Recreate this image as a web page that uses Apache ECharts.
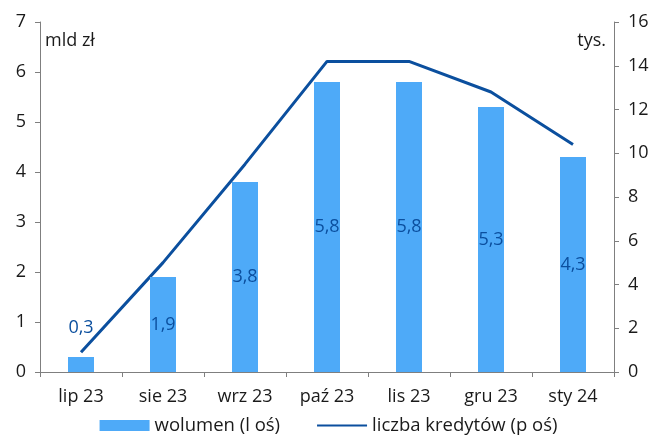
<!DOCTYPE html>
<html>
<head>
<meta charset="utf-8">
<script src="https://cdn.jsdelivr.net/npm/echarts@6/dist/echarts.min.js"></script>
<style>
html,body{margin:0;padding:0;background:#fff;}
#chart{width:657px;height:441px;}
</style>
</head>
<body>
<div id="chart"></div>
<script>
var categories = ['lip 23', 'sie 23', 'wrz 23', 'paź 23', 'lis 23', 'gru 23', 'sty 24'];
var wolumen = [0.3, 1.9, 3.8, 5.8, 5.8, 5.3, 4.3];
var liczbaKredytow = [0.9, 5.0, 9.5, 14.2, 14.2, 12.8, 10.4];
var leftTicks = [0, 1, 2, 3, 4, 5, 6, 7];
var rightTicks = [0, 2, 4, 6, 8, 10, 12, 14, 16];

var FONT = 'Open Sans';
var DARK = '#0b4f9e';
var BAR = '#4eaaf8';
var AXIS = '#7f7f7f';
var TXT = '#1a1a1a';

function fmt(v){ return String(v).replace('.', ','); }

var barData = wolumen.map(function(v){
  var item = {value: v};
  if (v < 1) {
    item.label = {position: 'top', distance: 20};
  }
  return item;
});

var chart = echarts.init(document.getElementById('chart'), null, {renderer: 'canvas'});
chart.setOption({
  animation: false,
  backgroundColor: '#fff',
  grid: {left: 40, right: 43, top: 22, bottom: 69, containLabel: false},
  legend: {
    bottom: 1,
    left: 'center',
    itemGap: 36,
    itemWidth: 50,
    itemHeight: 11,
    textStyle: {fontFamily: FONT, fontSize: 18.5, color: TXT},
    data: [
      {name: 'wolumen (l oś)', icon: 'rect'},
      {name: 'liczba kredytów (p oś)', itemStyle: {opacity: 0}}
    ]
  },
  xAxis: {
    type: 'category',
    data: categories,
    axisLine: {lineStyle: {color: AXIS, width: 1}},
    axisTick: {show: true, length: 5, lineStyle: {color: AXIS}},
    axisLabel: {fontFamily: FONT, fontSize: 18, color: TXT, margin: 16}
  },
  yAxis: [
    {
      type: 'value', min: leftTicks[0], max: leftTicks[leftTicks.length-1], interval: 1,
      position: 'left',
      axisLine: {show: true, lineStyle: {color: AXIS}},
      axisTick: {show: true, length: 5, lineStyle: {color: AXIS}},
      splitLine: {show: false},
      axisLabel: {fontFamily: FONT, fontSize: 18, color: TXT, margin: 14}
    },
    {
      type: 'value', min: rightTicks[0], max: rightTicks[rightTicks.length-1], interval: 2,
      position: 'right',
      axisLine: {show: true, lineStyle: {color: AXIS}},
      axisTick: {show: true, length: 5, lineStyle: {color: AXIS}},
      splitLine: {show: false},
      axisLabel: {fontFamily: FONT, fontSize: 18, color: TXT, margin: 14}
    }
  ],
  graphic: [
    {type: 'text', left: 45, top: 32, style: {text: 'mld zł', font: '18px "Open Sans"', fill: TXT}},
    {type: 'text', right: 51, top: 32, style: {text: 'tys.', font: '18px "Open Sans"', fill: TXT}}
  ],
  series: [
    {
      name: 'wolumen (l oś)',
      type: 'bar',
      yAxisIndex: 0,
      barWidth: 26,
      itemStyle: {color: BAR},
      data: barData,
      label: {
        show: true,
        position: 'inside',
        fontFamily: FONT,
        fontSize: 18,
        color: DARK,
        formatter: function(p){ return fmt(p.value); }
      },
      z: 2
    },
    {
      name: 'liczba kredytów (p oś)',
      type: 'line',
      yAxisIndex: 1,
      symbol: 'none',
      lineStyle: {color: DARK, width: 3},
      itemStyle: {color: DARK},
      data: liczbaKredytow,
      z: 1
    }
  ]
});
</script>
</body>
</html>
